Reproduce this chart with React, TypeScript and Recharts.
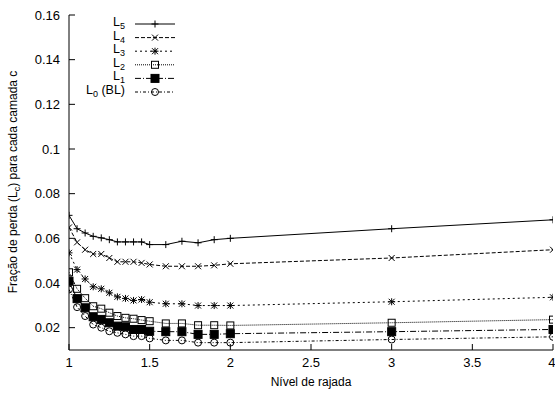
import React from "react";
import { LineChart, Line, XAxis, YAxis, Legend } from "recharts";

const xs = [1, 1.05, 1.1, 1.15, 1.2, 1.25, 1.3, 1.35, 1.4, 1.45, 1.5, 1.6, 1.7, 1.8, 1.9, 2, 3, 4];

const l5 = [0.0703, 0.0643, 0.0624, 0.0609, 0.0602, 0.0594, 0.0584, 0.0584, 0.0584, 0.0584, 0.0572, 0.0572, 0.0587, 0.058, 0.0594, 0.06, 0.0643, 0.0683];
const l4 = [0.0649, 0.0582, 0.0549, 0.053, 0.053, 0.0512, 0.0495, 0.0495, 0.0495, 0.049, 0.0483, 0.0475, 0.0475, 0.0475, 0.0479, 0.0486, 0.0512, 0.0549];
const l3 = [0.0535, 0.046, 0.0418, 0.0383, 0.0374, 0.0356, 0.0338, 0.0331, 0.0322, 0.0326, 0.0314, 0.0307, 0.0307, 0.0299, 0.0299, 0.0299, 0.0316, 0.0336];
const l2 = [0.0448, 0.0374, 0.0332, 0.0296, 0.0285, 0.0267, 0.0252, 0.0244, 0.024, 0.0234, 0.0229, 0.0219, 0.0219, 0.0211, 0.0211, 0.021, 0.0222, 0.0236];
const l1 = [0.0408, 0.033, 0.0289, 0.0249, 0.0237, 0.0222, 0.0207, 0.0204, 0.0192, 0.0192, 0.0184, 0.0182, 0.0182, 0.017, 0.017, 0.0173, 0.0182, 0.0192];
const l0 = [0.0371, 0.0292, 0.0252, 0.0214, 0.02, 0.0184, 0.0177, 0.017, 0.0162, 0.0162, 0.0152, 0.0143, 0.0143, 0.0133, 0.0133, 0.0133, 0.0147, 0.0159];

const xTicks = [1, 1.5, 2, 2.5, 3, 3.5, 4];
const yTicks = [0.02, 0.04, 0.06, 0.08, 0.1, 0.12, 0.14, 0.16];

const FONT = "'Liberation Sans', Arial, sans-serif";

type Shape = "plus" | "cross" | "star" | "square" | "filled" | "circle";

const series: { key: string; sub: string; rest: string; dash: string; shape: Shape }[] = [
  { key: "l5", sub: "5", rest: "", dash: "", shape: "plus" },
  { key: "l4", sub: "4", rest: "", dash: "4 2", shape: "cross" },
  { key: "l3", sub: "3", rest: "", dash: "2 3", shape: "star" },
  { key: "l2", sub: "2", rest: "", dash: "1 1", shape: "square" },
  { key: "l1", sub: "1", rest: "", dash: "6 2 1 2", shape: "filled" },
  { key: "l0", sub: "0", rest: " (BL)", dash: "3 2 1 2", shape: "circle" },
];

const data = xs.map((x, i) => ({
  x,
  l5: l5[i],
  l4: l4[i],
  l3: l3[i],
  l2: l2[i],
  l1: l1[i],
  l0: l0[i],
}));

const Marker = ({ cx, cy, shape }: { cx: number; cy: number; shape: Shape }) => {
  const s = 3.5;
  const plus = (
    <>
      <line x1={cx - s} y1={cy} x2={cx + s} y2={cy} stroke="#000" />
      <line x1={cx} y1={cy - s} x2={cx} y2={cy + s} stroke="#000" />
    </>
  );
  const cross = (
    <>
      <line x1={cx - 3} y1={cy - 3} x2={cx + 3} y2={cy + 3} stroke="#000" />
      <line x1={cx - 3} y1={cy + 3} x2={cx + 3} y2={cy - 3} stroke="#000" />
    </>
  );
  if (shape === "plus") return <g>{plus}</g>;
  if (shape === "cross") return <g>{cross}</g>;
  if (shape === "star")
    return (
      <g>
        {plus}
        {cross}
      </g>
    );
  if (shape === "square")
    return <rect x={cx - 3.5} y={cy - 3.5} width={7} height={7} fill="none" stroke="#000" />;
  if (shape === "filled")
    return <rect x={cx - 4} y={cy - 4} width={8} height={8} fill="#000" stroke="#000" />;
  return <circle cx={cx} cy={cy} r={3.5} fill="none" stroke="#000" />;
};

// legend drawn in the top-left corner of the plot, like gnuplot's key
const LegendBox = () => (
  <svg width={120} height={90} style={{ display: "block" }}>
    {series.map((s, i) => {
      const y = 9 + i * 13.6;
      return (
        <g key={s.key}>
          <text x={50} y={y + 2} textAnchor="end" fontFamily={FONT} fontSize={12.5} fill="#000">
            L
            <tspan fontSize={9} dy={3}>
              {s.sub}
            </tspan>
            {s.rest ? <tspan dy={-3}>{s.rest}</tspan> : null}
          </text>
          <line x1={60} y1={y} x2={100} y2={y} stroke="#000" strokeDasharray={s.dash || undefined} />
          <Marker cx={80} cy={y} shape={s.shape} />
        </g>
      );
    })}
  </svg>
);

const YLabel = () => (
  <text
    x={17}
    y={182}
    transform="rotate(-90 17 182)"
    textAnchor="middle"
    fontFamily={FONT}
    fontSize={12}
    fill="#000"
  >
    Fração de perda (L
    <tspan fontSize={9} dy={3}>
      c
    </tspan>
    <tspan dy={-3}>) para cada camada c</tspan>
  </text>
);

const noTick = () => <g />;

export default function App() {
  return (
    <div style={{ position: "absolute", left: 0, top: 0, width: 555, height: 398, background: "#fff" }}>
      <LineChart
        width={555}
        height={398}
        data={data}
        margin={{ top: 15, right: 2, left: 0, bottom: 0 }}
        style={{ fontFamily: FONT }}
      >
        <XAxis
          dataKey="x"
          type="number"
          domain={[1, 4]}
          ticks={xTicks}
          allowDataOverflow
          height={48}
          tickSize={-6}
          tickMargin={14}
          stroke="#000"
          tick={{ fill: "#000", fontSize: 13, fontFamily: FONT }}
          label={{ value: "Nível de rajada", position: "insideBottom", offset: 12, fill: "#000", fontSize: 12, fontFamily: FONT }}
        />
        <XAxis
          xAxisId="top"
          orientation="top"
          type="number"
          dataKey="x"
          domain={[1, 4]}
          ticks={xTicks}
          allowDataOverflow
          height={0}
          tickSize={-6}
          stroke="#000"
          tick={noTick}
        />
        <YAxis
          type="number"
          domain={[0.01, 0.16]}
          ticks={yTicks}
          allowDataOverflow
          width={69}
          tickSize={-6}
          tickMargin={15}
          stroke="#000"
          tick={{ fill: "#000", fontSize: 13, fontFamily: FONT }}
          label={{ content: () => <YLabel /> }}
        />
        <YAxis
          yAxisId="right"
          orientation="right"
          type="number"
          domain={[0.01, 0.16]}
          ticks={yTicks}
          allowDataOverflow
          width={0}
          tickSize={-6}
          stroke="#000"
          tick={noTick}
        />
        <Legend
          layout="vertical"
          align="center"
          verticalAlign="middle"
          wrapperStyle={{ top: 15, left: 75, width: 120, height: 90 }}
          content={() => <LegendBox />}
        />
        {series.map((s) => (
          <Line
            key={s.key}
            dataKey={s.key}
            type="linear"
            stroke="#000"
            strokeWidth={1}
            strokeDasharray={s.dash || undefined}
            isAnimationActive={false}
            activeDot={false}
            dot={(p: any) => <Marker key={`${s.key}-${p.index}`} cx={p.cx} cy={p.cy} shape={s.shape} />}
          />
        ))}
      </LineChart>
    </div>
  );
}
